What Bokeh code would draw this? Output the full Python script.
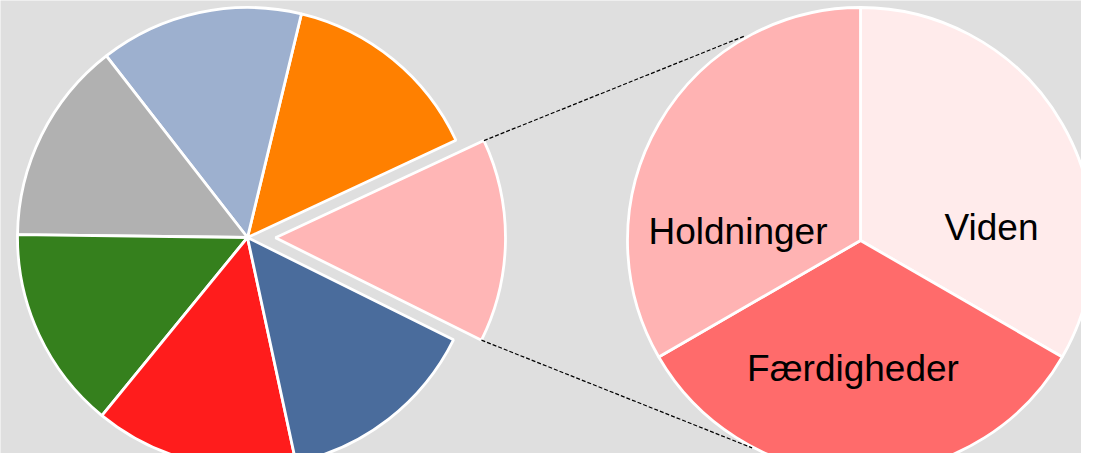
import numpy as np
from bokeh.plotting import figure
from bokeh.models import Range1d, ColumnDataSource
from bokeh.core.properties import value
from bokeh.embed import file_html
from bokeh.resources import INLINE

# ---------------- data ----------------
sub_labels = ["Viden", "Færdigheder", "Holdninger"]
sub_values = [1, 1, 1]
sub_colors = ["#FFEBEB", "#FF6B6B", "#FFB3B3"]

main_labels = ["Del 1", "Del 2", "Del 3", "Del 4", "Del 5", "Del 6"]
main_values = [3, 3, 3, 3, 3, 3]
main_colors = ["#FF8000", "#9DB0CF", "#B1B1B1", "#35801D", "#FF1C1C", "#4A6C9C"]
other_label = "Andet"
other_color = "#FFB6B6"

# ---------------- layout (pixels, y up = -pixel y) ----------------
W, H = 1081, 453
C1 = (247.0, -237.0)   # main pie centre
R1 = 230.0
EXPLODE = 28.0
C2 = (860.0, -240.0)   # secondary pie centre
R2 = 233.0
OTHER_MID_DEG = -0.7
LEADER_ANGLES = (119.5, 242.4)
LABEL_OFFSETS = {"Viden": (131.0, 13.0), "Færdigheder": (-7.5, -128.0), "Holdninger": (-122.5, 9.0)}
BG = "#DFDFDF"

p = figure(width=W, height=H, output_backend="svg", toolbar_location=None,
           x_range=Range1d(0, W), y_range=Range1d(-H, 0),
           min_border=0)
p.axis.visible = False
p.grid.visible = False
p.background_fill_color = BG
p.border_fill_color = BG
p.outline_line_color = None

# ---- main pie ----
other_value = sum(sub_values)
total = other_value + sum(main_values)
other_span = 2 * np.pi * other_value / total
other_start = np.deg2rad(OTHER_MID_DEG) - other_span / 2
other_end = other_start + other_span

spans = 2 * np.pi * np.array(main_values) / total
ends = other_end + np.cumsum(spans)
starts = ends - spans
src_main = ColumnDataSource(dict(x=[C1[0]] * len(main_values), y=[C1[1]] * len(main_values),
                                 start=starts, end=ends, color=main_colors, label=main_labels))
p.wedge(x="x", y="y", radius=R1, start_angle="start", end_angle="end",
        fill_color="color", line_color="white", line_width=2.8, source=src_main)

mid = (other_start + other_end) / 2
ox = C1[0] + EXPLODE * np.cos(mid)
oy = C1[1] + EXPLODE * np.sin(mid)
p.wedge(x=[ox], y=[oy], radius=R1, start_angle=[other_start], end_angle=[other_end],
        fill_color=other_color, line_color="white", line_width=2.8)

# ---- secondary pie (clockwise from top) ----
sub_total = sum(sub_values)
sspans = 2 * np.pi * np.array(sub_values) / sub_total
cw_start = np.pi / 2 - np.concatenate([[0], np.cumsum(sspans)[:-1]])
cw_end = cw_start - sspans
src_sub = ColumnDataSource(dict(x=[C2[0]] * len(sub_values), y=[C2[1]] * len(sub_values),
                                start=cw_end, end=cw_start, color=sub_colors, label=sub_labels))
p.wedge(x="x", y="y", radius=R2, start_angle="start", end_angle="end",
        fill_color="color", line_color="white", line_width=2.8, source=src_sub)

# ---- leader lines ----
top_corner = (ox + R1 * np.cos(other_end), oy + R1 * np.sin(other_end))
bot_corner = (ox + R1 * np.cos(other_start), oy + R1 * np.sin(other_start))
a_top, a_bot = np.deg2rad(LEADER_ANGLES[0]), np.deg2rad(LEADER_ANGLES[1])
top_end = (C2[0] + (R2 + 2) * np.cos(a_top), C2[1] + (R2 + 2) * np.sin(a_top))
bot_end = (C2[0] + (R2 + 1) * np.cos(a_bot), C2[1] + (R2 + 1) * np.sin(a_bot))
p.segment(x0=[top_corner[0], bot_corner[0]], y0=[top_corner[1], bot_corner[1]],
          x1=[top_end[0], bot_end[0]], y1=[top_end[1], bot_end[1]],
          line_color="black", line_width=1.2, line_dash="4 2")

# ---- labels ----
lx = [C2[0] + LABEL_OFFSETS[l][0] for l in sub_labels]
ly = [C2[1] + LABEL_OFFSETS[l][1] for l in sub_labels]
p.text(x=lx, y=ly, text=sub_labels, text_font=value("Liberation Sans"),
       text_font_size="37px", text_align="center", text_baseline="alphabetic",
       text_color="black")

open("out.html", "w").write(file_html(p, INLINE))
